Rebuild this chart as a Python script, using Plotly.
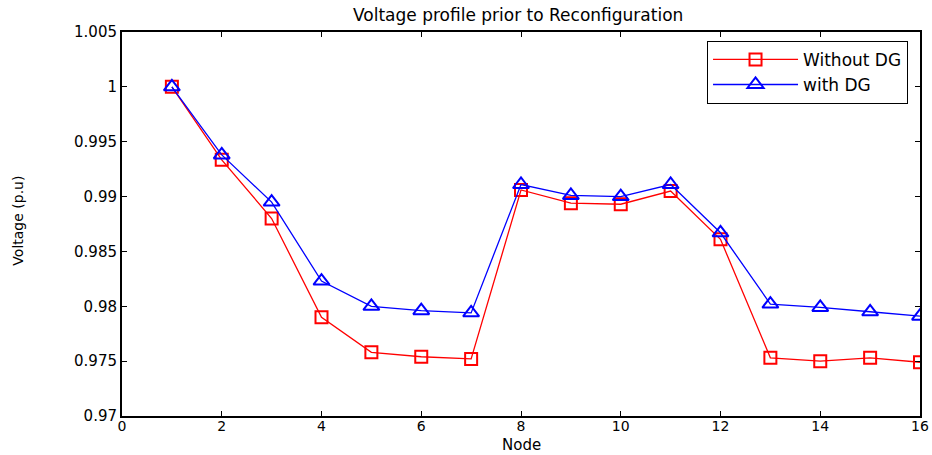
import plotly.graph_objects as go

nodes = list(range(1, 17))
without_dg = [1.0, 0.99335, 0.9880, 0.9790, 0.9758, 0.9754, 0.9752, 0.9906, 0.9894, 0.9893,
              0.9905, 0.9861, 0.9753, 0.9750, 0.9753, 0.9749]
with_dg = [1.0, 0.9938, 0.9895, 0.9823, 0.9800, 0.9796, 0.9794, 0.9911, 0.9901, 0.9900,
           0.9911, 0.9867, 0.9802, 0.9799, 0.9795, 0.9791]
x_ticks = list(range(0, 17, 2))
y_ticks = [0.97, 0.975, 0.98, 0.985, 0.99, 0.995, 1.0, 1.005]
y_tick_text = ["0.97", "0.975", "0.98", "0.985", "0.99", "0.995", "1", "1.005"]

FONT = "DejaVu Sans, Liberation Sans, Arial"

fig = go.Figure()
fig.add_trace(go.Scatter(x=nodes, y=without_dg, mode="lines+markers", name="Without DG",
                         line=dict(color="#ff0000", width=1.3),
                         marker=dict(symbol="square-open", size=12, color="#ff0000",
                                     line=dict(width=2, color="#ff0000"))))
fig.add_trace(go.Scatter(x=nodes, y=with_dg, mode="lines+markers", name="with DG",
                         line=dict(color="#0000ff", width=1.3),
                         marker=dict(symbol="triangle-up-open", size=14, color="#0000ff",
                                     line=dict(width=2, color="#0000ff"))))

axis_common = dict(showgrid=False, zeroline=False, showline=True, linecolor="black",
                   linewidth=2, mirror="ticks", ticks="inside", ticklen=5, automargin=False,
                   tickcolor="black")

fig.update_layout(
    width=932, height=455,
    margin=dict(l=122, r=12, t=32, b=39),
    paper_bgcolor="white", plot_bgcolor="white",
    font=dict(family=FONT, color="black", size=16),
    title=dict(text="Voltage profile prior to Reconfiguration", x=0.556, xanchor="center",
               y=0.967, yanchor="middle", font=dict(size=17)),
    xaxis=dict(range=[0, 16], tickvals=x_ticks, tickfont=dict(family=FONT, size=14, color="black"),
               ticklabelstandoff=-4, **axis_common),
    yaxis=dict(range=[0.97, 1.005], tickvals=y_ticks, ticktext=y_tick_text,
               tickfont=dict(family=FONT, size=15, color="black"), **axis_common),
    legend=dict(x=0.985, y=0.977, xanchor="right", yanchor="top", bordercolor="black",
                borderwidth=1, bgcolor="white", font=dict(size=17),
                itemwidth=85, tracegroupgap=0),
    showlegend=True,
    annotations=[
        dict(text="Node", xref="paper", yref="paper", x=0.5, y=-0.0745,
             xanchor="center", yanchor="middle", showarrow=False, font=dict(size=15)),
        dict(text="Voltage (p.u)", xref="paper", yref="paper", x=-0.1297, y=0.51,
             xanchor="center", yanchor="middle", textangle=-90, showarrow=False,
             font=dict(size=14)),
    ],
)

fig.write_html("out.html")
